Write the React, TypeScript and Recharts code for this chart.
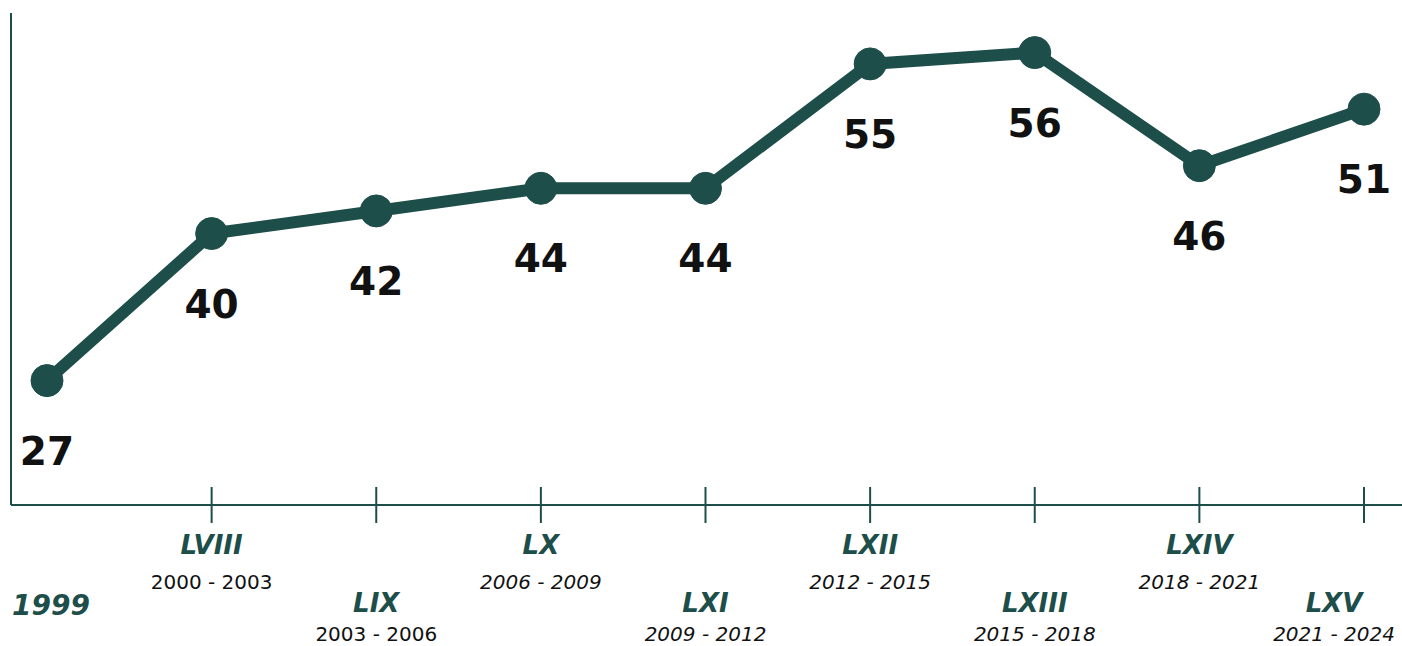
import { LineChart, Line, XAxis, YAxis, LabelList } from 'recharts'

const periods = ['1999', 'LVIII', 'LIX', 'LX', 'LXI', 'LXII', 'LXIII', 'LXIV', 'LXV']
const years = ['', '2000 - 2003', '2003 - 2006', '2006 - 2009', '2009 - 2012', '2012 - 2015', '2015 - 2018', '2018 - 2021', '2021 - 2024']
const values = [27, 40, 42, 44, 44, 55, 56, 46, 51]

const GREEN = '#1d4e4a'
const FONT = '"DejaVu Sans", sans-serif'

const data = periods.map((p, i) => ({ period: p, years: years[i], value: values[i] }))

const PeriodTick = (props: any) => {
  const { x, y, index, payload } = props
  if (index === 0) {
    return (
      <text x={x + 4} y={y + 110} textAnchor="middle" fill={GREEN} fontSize={28} fontWeight={700} fontStyle="italic" fontFamily={FONT}>
        {payload.value}
      </text>
    )
  }
  const high = index % 2 === 1
  const romanY = high ? 49 : 107
  const yearY = high ? 84 : 136
  // keep the last labels inside the page
  const lx = Math.min(x, 1334)
  return (
    <g>
      <line x1={x} x2={x} y1={y - 18} y2={y + 18} stroke={GREEN} strokeWidth={2} />
      <text x={lx} y={y + romanY} textAnchor="middle" fill={GREEN} fontSize={26} fontWeight={700} fontStyle="italic" fontFamily={FONT}>
        {payload.value}
      </text>
      <text x={lx} y={y + yearY} textAnchor="middle" fill="#111" fontSize={20} fontStyle={index > 2 ? 'italic' : 'normal'} fontFamily={FONT}>
        {years[index]}
      </text>
    </g>
  )
}

const ValueLabel = (props: any) => {
  const { x, y, value } = props
  return (
    <text x={x} y={y + 84} textAnchor="middle" fill="#111" fontSize={39} fontWeight={700} fontFamily={FONT}>
      {value}
    </text>
  )
}

export default function App() {
  return (
    <div style={{ position: 'absolute', left: 0, top: 0, background: '#fff' }}>
      <LineChart width={1402} height={646} data={data} margin={{ top: 13, right: 0, bottom: 0, left: 0 }}>
        <XAxis
          dataKey="period"
          interval={0}
          padding={{ left: 36, right: 38 }}
          height={141}
          tickSize={0}
          tickMargin={0}
          tickLine={false}
          axisLine={{ stroke: GREEN, strokeWidth: 2 }}
          tick={<PeriodTick />}
        />
        <YAxis
          width={11}
          domain={[16, 59.5]}
          tick={false}
          tickLine={false}
          axisLine={{ stroke: GREEN, strokeWidth: 2 }}
        />
        <Line
          type="linear"
          dataKey="value"
          stroke={GREEN}
          strokeWidth={12}
          dot={{ r: 16, fill: GREEN, stroke: GREEN, strokeWidth: 1 }}
          activeDot={false}
          isAnimationActive={false}
        >
          <LabelList dataKey="value" content={<ValueLabel />} />
        </Line>
      </LineChart>
    </div>
  )
}
